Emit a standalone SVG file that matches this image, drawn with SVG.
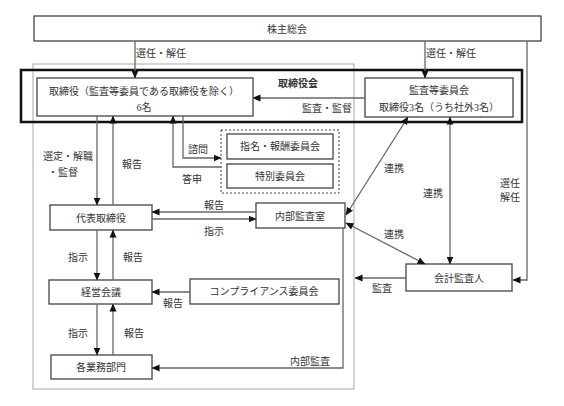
<svg xmlns="http://www.w3.org/2000/svg" width="564" height="406" viewBox="0 0 564 406">
<defs>
<marker id="ah" markerUnits="userSpaceOnUse" markerWidth="8" markerHeight="8" viewBox="0 0 8 8" refX="7.5" refY="4" orient="auto-start-reverse"><path d="M0 0.5 L8 4 L0 7.5 Z" fill="#111"/></marker>
</defs>
<style>
text{font-family:"Liberation Serif","Noto Sans CJK JP",serif;font-size:10px;fill:#333;text-anchor:middle;dominant-baseline:central}
.box{fill:#fff;stroke:#444;stroke-width:1.3}
.c{fill:none;stroke:#666;stroke-width:1.3}
.ce{marker-end:url(#ah)}
.cb{marker-start:url(#ah);marker-end:url(#ah)}
</style>
<rect width="564" height="406" fill="#fff"/>
<rect x="33" y="64" width="321" height="325" fill="none" stroke="#aaa" stroke-width="1"/>
<g id="shareholders"><rect class="box" x="34" y="16" width="507" height="25"/><text x="287" y="29">株主総会</text></g>
<g id="boardmeeting"><rect x="21" y="70" width="501" height="52" fill="none" stroke="#111" stroke-width="2.5"/><text x="298" y="83" style="font-weight:bold">取締役会</text></g>
<g id="board"><rect class="box" x="37" y="78" width="216" height="38"/><text x="144" y="91">取締役（監査等委員である取締役を除く）</text><text x="144" y="107">6名</text></g>
<g id="auditcommittee"><rect class="box" x="365" y="78" width="148" height="39"/><text x="439" y="90">監査等委員会</text><text x="439" y="107">取締役3名（うち社外3名）</text></g>
<g id="advisory"><rect x="221" y="130" width="118" height="63" fill="none" stroke="#444" stroke-width="1" stroke-dasharray="2,2"/></g>
<g id="nomination"><rect class="box" x="227" y="134" width="106" height="25"/><text x="280" y="146">指名・報酬委員会</text></g>
<g id="special"><rect class="box" x="227" y="164" width="106" height="24"/><text x="280" y="176">特別委員会</text></g>
<g id="ceo"><rect class="box" x="50" y="205" width="102" height="25"/><text x="101" y="218">代表取締役</text></g>
<g id="internalaudit"><rect class="box" x="256" y="203" width="89" height="25"/><text x="300" y="216">内部監査室</text></g>
<g id="accountingauditor"><rect class="box" x="406" y="264" width="106" height="27"/><text x="459" y="278">会計監査人</text></g>
<g id="management"><rect class="box" x="49" y="280" width="103" height="24"/><text x="101" y="292">経営会議</text></g>
<g id="compliance"><rect class="box" x="190" y="279" width="149" height="25"/><text x="264" y="291">コンプライアンス委員会</text></g>
<g id="departments"><rect class="box" x="51" y="355" width="101" height="24"/><text x="101" y="367">各業務部門</text></g>
<g id="connectors">
<path class="c ce" d="M135 41 V78"/>
<path class="c ce" d="M425 41 V78"/>
<path class="c ce" d="M527 41 V280 H513"/>
<path class="c ce" d="M365 98 H253"/>
<path class="c ce" d="M97 116 V205"/>
<path class="c ce" d="M113 205 V116"/>
<path class="c ce" d="M183 116 V158 H221"/>
<path class="c ce" d="M221 167 H173 V116"/>
<path class="c ce" d="M256 212 H152"/>
<path class="c ce" d="M152 219 H256"/>
<path class="c cb" d="M408 117 L346 215"/>
<path class="c cb" d="M450 117 V264"/>
<path class="c cb" d="M346 223 L425 264"/>
<path class="c ce" d="M406 278 H355"/>
<path class="c ce" d="M97 230 V280"/>
<path class="c ce" d="M113 280 V230"/>
<path class="c ce" d="M190 292 H152"/>
<path class="c ce" d="M97 304 V355"/>
<path class="c ce" d="M113 355 V304"/>
<path class="c ce" d="M343 228 V368 H152"/>
<text x="161" y="53">選任・解任</text>
<text x="451" y="53">選任・解任</text>
<text x="327" y="108">監査・監督</text>
<text x="510" y="183">選任</text>
<text x="510" y="197">解任</text>
<text x="68" y="156">選定・解職</text>
<text x="63" y="172">・監督</text>
<text x="132" y="164">報告</text>
<text x="198" y="149">諮問</text>
<text x="192" y="179">答申</text>
<text x="214" y="205">報告</text>
<text x="214" y="231">指示</text>
<text x="394" y="168">連携</text>
<text x="433" y="193">連携</text>
<text x="394" y="234">連携</text>
<text x="382" y="288">監査</text>
<text x="78" y="257">指示</text>
<text x="133" y="257">報告</text>
<text x="173" y="303">報告</text>
<text x="78" y="333">指示</text>
<text x="134" y="333">報告</text>
<text x="310" y="361">内部監査</text>
</g>
</svg>
